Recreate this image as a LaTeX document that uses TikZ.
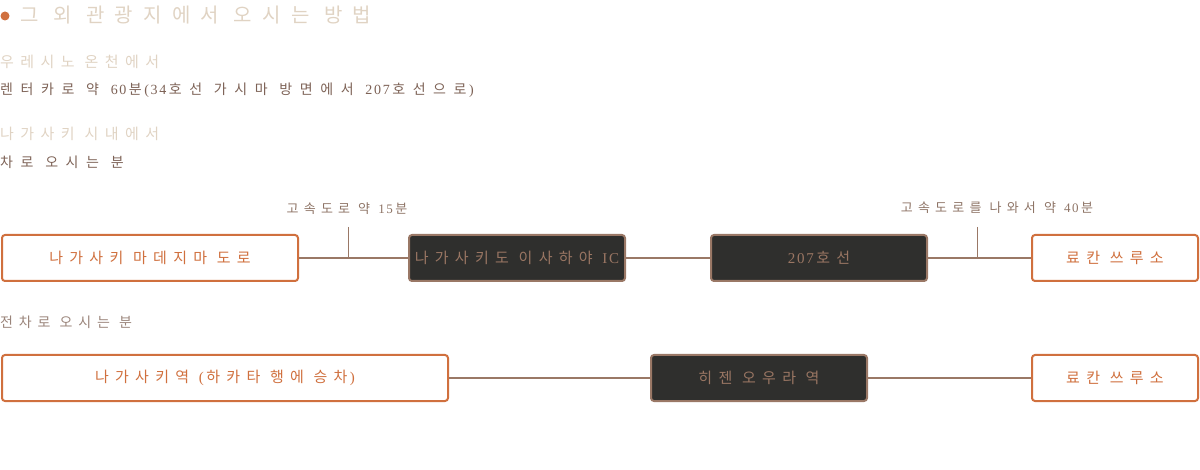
\documentclass[tikz,border=0pt]{standalone}
\usepackage{fontspec}
\setmainfont{Noto Sans CJK KR}
\newfontfamily\titlefont[LetterSpace=51]{Noto Sans CJK KR}
\newfontfamily\subfont[LetterSpace=43]{Noto Sans CJK KR}
\newfontfamily\bodyfont[LetterSpace=54,WordSpace=1.1]{Noto Sans CJK KR}
\newfontfamily\bodyfontb[LetterSpace=42]{Noto Sans CJK KR}
\newfontfamily\labfont[LetterSpace=40]{Noto Sans CJK KR}
\newfontfamily\boxfont[LetterSpace=42]{Noto Sans CJK KR}
\newfontfamily\numfont[LetterSpace=12]{Liberation Serif}
\newcommand\dg[1]{{\numfont #1}}
\newcommand\dgr[1]{{\numfont #1}\kern2.5pt}
\newcommand\dgl[1]{\kern2.5pt{\numfont #1}}
\newcommand\dgb[1]{\kern2.5pt{\numfont #1}\kern2.5pt}
\definecolor{orng}{HTML}{D0703E}
\definecolor{beige}{HTML}{E0D3C3}
\definecolor{brwn}{HTML}{7D6256}
\definecolor{graybrwn}{HTML}{9A847A}
\definecolor{labc}{HTML}{8E7466}
\definecolor{linec}{HTML}{9A7866}
\definecolor{darkfill}{HTML}{2F2F2D}
\definecolor{darktxt}{HTML}{9A7663}
\begin{document}
\begin{tikzpicture}[x=1pt,y=-1pt,
  titletext/.style={anchor=west,inner sep=0pt,text=beige,font=\titlefont\fontsize{20}{24}\selectfont},
  subtext/.style={anchor=west,inner sep=0pt,text=beige,font=\subfont\fontsize{15}{18}\selectfont},
  bodytext/.style={anchor=west,inner sep=0pt,text=brwn,font=\bodyfont\fontsize{14}{17}\selectfont},
  labtext/.style={inner sep=0pt,text=labc,font=\labfont\fontsize{13}{16}\selectfont},
  lightbox/.style={draw=orng,line width=2pt,fill=white,rounded corners=3pt,text=orng,
    minimum height=46pt,inner sep=0pt,font=\boxfont\fontsize{15}{18}\selectfont},
  darkbox/.style={draw=linec,line width=2pt,fill=darkfill,rounded corners=3pt,text=darktxt,
    minimum height=46pt,inner sep=0pt,font=\boxfont\fontsize{15}{18}\selectfont},
  conn/.style={draw=linec,line width=2pt},
  tick/.style={draw=linec,line width=1pt}]
\useasboundingbox (0,0) rectangle (1200,470);
% title
\fill[orng] (5,16) circle (4.5pt);
\node[titletext] (title) at (20,15) {그 외 관광지에서 오시는 방법};
\node[subtext] (s1) at (0,62) {우레시노 온천에서};
\node[bodytext] (t1) at (0,90) {렌터카로 약 \dgr{60}분\dgb{(34}호선 가시마 방면에서 \dgr{207}호선으로\dgl{)}};
\node[subtext] (s2) at (0,134) {나가사키 시내에서};
\node[bodytext] (t2) at (0,162) {차로 오시는 분};
\node[bodytext,text=graybrwn,font=\bodyfontb\fontsize{14}{17}\selectfont] (t3) at (0,322) {전차로 오시는 분};
% row 1
\node[lightbox,minimum width=296pt] (b1) at (150,258) {나가사키 마데지마 도로};
\node[darkbox,minimum width=216pt] (b2) at (517,258) {나가사키도 이사하야 \dg{IC}};
\node[darkbox,minimum width=216pt] (b3) at (819,258) {\dgr{207}호선};
\node[lightbox,minimum width=166pt] (b4) at (1115,258) {료칸 쓰루소};
\draw[conn] (b1.east) -- (b2.west);
\draw[conn] (b2.east) -- (b3.west);
\draw[conn] (b3.east) -- (b4.west);
\node[labtext] (l1) at (347,209) {고속도로 약 \dgr{15}분};
\node[labtext] (l2) at (997,208) {고속도로를 나와서 약 \dgr{40}분};
\coordinate (k1) at (348,227);
\coordinate (k2) at (977,227);
\draw[tick] (k1) -- (k1 |- b1.east);
\draw[tick] (k2) -- (k2 |- b4.west);
% row 2
\node[lightbox,minimum width=446pt] (b5) at (225,378) {나가사키역 \dgr{(}하카타 행에 승차\dgl{)}};
\node[darkbox,minimum width=216pt] (b6) at (759,378) {히젠 오우라 역};
\node[lightbox,minimum width=166pt] (b7) at (1115,378) {료칸 쓰루소};
\draw[conn] (b5.east) -- (b6.west);
\draw[conn] (b6.east) -- (b7.west);
\end{tikzpicture}
\end{document}
